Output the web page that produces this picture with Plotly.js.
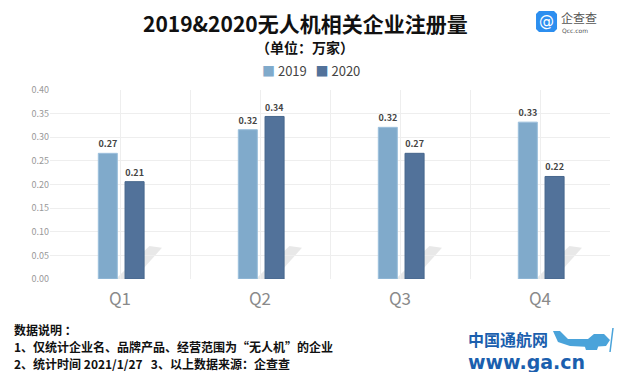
<!DOCTYPE html>
<html>
<head>
<meta charset="utf-8">
<script src="https://cdn.plot.ly/plotly-3.0.1.min.js"></script>
<style>html,body{margin:0;padding:0;background:#fff;}#chart{width:620px;height:372px;}</style>
</head>
<body>
<div id="chart"></div>
<script>
const categories = ['Q1', 'Q2', 'Q3', 'Q4'];
const values2019 = [0.266, 0.316, 0.321, 0.332];
const values2020 = [0.206, 0.344, 0.266, 0.217];
const seriesNames = ['2019', '2020'];
const yTicks = [0, 0.05, 0.10, 0.15, 0.20, 0.25, 0.30, 0.35, 0.40];

const c2019 = '#80AACB', c2020 = '#52729A';
const xIdx = categories.map((_, i) => i);
const font = '"Noto Sans CJK SC", "Noto Sans", sans-serif';

// plot area in pixels
const L = 50, R = 10, T = 90, B = 93, W = 620, H = 372;
const PW = W - L - R, PH = H - T - B;
const px = x => (x - L) / PW;
const py = y => (H - B - y) / PH;
const pathPx = pts => 'M' + pts.map(p => px(p[0]).toFixed(4) + ',' + py(p[1]).toFixed(4)).join(' L') + ' Z';

const barW = 0.136;
const traces = [
  {type: 'bar', name: seriesNames[0], x: xIdx, y: values2019, width: barW, offset: -0.155,
   marker: {color: c2019, line: {color: '#9CC0DD', width: 1}},
   texttemplate: '%{y:.2f}', textposition: 'outside', cliponaxis: false,
   textfont: {size: 9, color: '#444', family: font, weight: 'bold'}, hoverinfo: 'x+y'},
  {type: 'bar', name: seriesNames[1], x: xIdx, y: values2020, width: barW, offset: 0.036,
   marker: {color: c2020, line: {color: '#46668C', width: 1}},
   texttemplate: '%{y:.2f}', textposition: 'outside', cliponaxis: false,
   textfont: {size: 9, color: '#444', family: font, weight: 'bold'}, hoverinfo: 'x+y'}
];

const shapes = [];
// decorative shadows behind the 2020 bars
xIdx.forEach(i => {
  shapes.push({type: 'path', xref: 'x', yref: 'y', layer: 'below',
    path: `M${i-0.03},0 L${i+0.10},0 L${i+0.30},0.066 L${i+0.21},0.07 Z`,
    fillcolor: 'rgba(0,0,0,0.09)', line: {width: 0}});
});
// Qcc logo icon
shapes.push({type: 'path', xref: 'paper', yref: 'paper', layer: 'above',
  path: pathPx([[536,14],[539,11],[554,11],[557,14],[557,29],[554,32],[539,32],[536,29]]),
  fillcolor: '#2C8EEF', line: {width: 0}});
// plane decoration (bottom-right)
shapes.push({type: 'path', xref: 'paper', yref: 'paper', layer: 'above',
  path: pathPx([[553,331],[560,331],[568,339],[588,339],[594,334],[604,334],[610,340],[606,346],[590,347],[570,346],[558,342]]),
  fillcolor: '#4AA3DA', line: {width: 0}});
shapes.push({type: 'path', xref: 'paper', yref: 'paper', layer: 'above',
  path: pathPx([[583,341],[600,341],[597,350],[586,350]]),
  fillcolor: '#4AA3DA', line: {width: 0}});
shapes.push({type: 'line', xref: 'paper', yref: 'paper', x0: px(613), x1: px(610), y0: py(328), y1: py(352),
  line: {color: '#4AA3DA', width: 1.5}});

const a = (text, x, y, size, color, xanchor, fam) => ({text, x: px(x), y: py(y), xref: 'paper', yref: 'paper',
  showarrow: false, font: {size, color, family: fam || font}, xanchor, yanchor: 'middle'});

const ann = [
  a('<b>2019&2020无人机相关企业注册量</b>', 305, 23, 21, '#111', 'center'),
  a('<b>（单位：万家）</b>', 305, 47, 14, '#111', 'center'),
  a(`<span style="color:${c2019}">■</span> ${seriesNames[0]}   <span style="color:${c2020}">■</span> ${seriesNames[1]}`, 311, 70, 13, '#444', 'center'),
  a('@', 546.5, 21, 15, '#fff', 'center', 'DejaVu Sans'),
  a('企查查', 559, 17, 12, '#555', 'left'),
  a('Qcc.com', 560, 30, 6, '#555', 'left', 'DejaVu Sans'),
  a('<b>数据说明 ：</b>', 12, 329, 12, '#111', 'left'),
  a('<b>1、仅统计企业名、品牌产品、经营范围为“无人机”的企业</b>', 12, 346, 12, '#111', 'left'),
  a('<b>2、统计时间 2021/1/27   3、以上数据来源：企查查</b>', 12, 363, 12, '#111', 'left'),
  a('<b>中国通航网</b>', 466, 339, 16, '#1B5FAE', 'left'),
  a('<b>www.ga.cn</b>', 466, 362, 19, '#1B5FAE', 'left', 'DejaVu Sans')
];

const layout = {
  width: W, height: H,
  margin: {l: L, r: R, t: T, b: B},
  paper_bgcolor: '#fff', plot_bgcolor: '#fff',
  showlegend: false,
  font: {family: font},
  xaxis: {type: 'linear', range: [-0.5, 3.5], tickvals: xIdx, ticktext: categories,
    showgrid: true, gridcolor: '#EEEEEE', gridwidth: 1, zeroline: false, showline: false, ticks: '',
    minor: {tick0: 0.5, dtick: 1, showgrid: true, gridcolor: '#EEEEEE', gridwidth: 1},
    tickfont: {size: 17, color: '#8A8A8A', family: font}, ticklabelstandoff: 8, fixedrange: true},
  yaxis: {range: [0, 0.4], tickvals: yTicks, tickformat: '.2f', showgrid: true, gridcolor: '#EEEEEE',
    zeroline: false, showline: false, ticks: '', tickfont: {size: 9, color: '#999', family: font}, fixedrange: true},
  shapes: shapes,
  annotations: ann
};

Plotly.newPlot('chart', traces, layout, {displayModeBar: false, staticPlot: true});
</script>
</body>
</html>
